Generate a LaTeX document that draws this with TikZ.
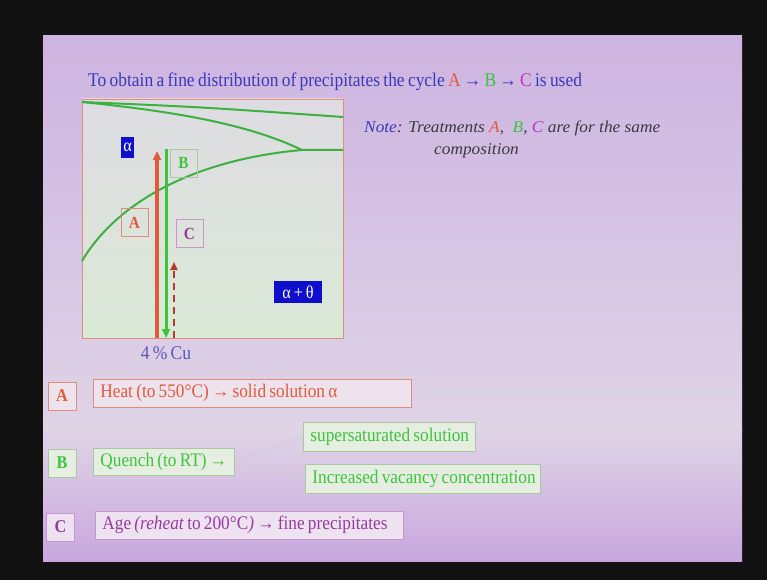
\documentclass[tikz,border=0pt]{standalone}
\usepackage{fontspec}
\setmainfont[FakeStretch=0.9,WordSpace=0.75]{Liberation Serif}
\newfontfamily\notefont[FakeStretch=1.05]{Liberation Serif}
\usetikzlibrary{arrows.meta}
\definecolor{slideTop}{RGB}{205,180,225}
\definecolor{slideMid}{RGB}{223,212,230}
\definecolor{slideBot}{RGB}{200,167,222}
\definecolor{titleBlue}{RGB}{58,58,184}
\definecolor{redA}{RGB}{224,90,60}
\definecolor{greenB}{RGB}{60,196,60}
\definecolor{magC}{RGB}{190,50,200}
\definecolor{purpC}{RGB}{150,58,160}
\definecolor{curveGreen}{RGB}{60,176,64}
\definecolor{boxRed}{RGB}{226,140,124}
\definecolor{boxGreen}{RGB}{170,200,160}
\definecolor{boxPurp}{RGB}{200,150,205}
\definecolor{fillA}{RGB}{238,226,236}
\definecolor{fillB}{RGB}{230,238,226}
\definecolor{fillC}{RGB}{238,226,240}
\definecolor{royal}{RGB}{14,14,204}
\definecolor{noteGray}{RGB}{60,56,66}
\definecolor{cuBlue}{RGB}{90,90,184}
\definecolor{dashBrown}{RGB}{176,60,46}
\newcommand{\fsz}[1]{\fontsize{#1}{#1}\selectfont}
\begin{document}
\begin{tikzpicture}[x=1pt,y=-1pt,
  curve/.style={curveGreen,line width=2pt},
  lblbox/.style={draw,line width=0.6pt,minimum width=27pt,minimum height=28pt,inner sep=0pt,font=\fsz{17}\bfseries},
  smallbox/.style={draw,line width=0.8pt,minimum width=28pt,minimum height=28pt,inner sep=0pt,font=\fsz{18}\bfseries},
  bigbox/.style={draw,line width=0.8pt,anchor=west,inner xsep=7pt,inner ysep=0pt,align=left,font=\fsz{19.2},
    execute at begin node={\spaceskip=0pt\xspaceskip=0pt\relax}},
  bluetag/.style={fill=royal,text=white,inner sep=0pt,font=\fsz{18}},
  upArrow/.style={redA,line width=3.4pt,-{Triangle[length=9pt,width=8pt]}},
  downArrow/.style={greenB,line width=3pt,-{Triangle[length=9pt,width=8pt]}},
  dashArrow/.style={dashBrown,line width=2.8pt,dash pattern=on 7pt off 5pt,-{Triangle[length=8pt,width=7pt]}},
  link/.style={gray!40,line width=0.5pt}
]
\useasboundingbox (0,0) rectangle (767,580);
\fill[black!93] (0,0) rectangle (767,580);
\shade[top color=slideTop,bottom color=slideMid] (43,36) rectangle (742,431);
\shade[top color=slideMid,bottom color=slideBot] (43,430) rectangle (742,561);

% title
\node[anchor=base west,inner sep=0pt,font=\fsz{19.4},text=titleBlue] (title) at (88,87)
  {To obtain a fine distribution of precipitates the cycle \textcolor{redA}{A}\,→\,\textcolor{greenB}{B}\,→\,\textcolor{magC}{C} is used};

% diagram
\shade[top color={rgb,255:red,222;green,220;blue,226},bottom color={rgb,255:red,218;green,233;blue,214}] (82,99) rectangle (343,338);
\node[draw=boxRed,line width=0.8pt,anchor=north west,minimum width=261pt,minimum height=239pt,inner sep=0pt] (diag) at (82,99) {};
\draw[curve] (82,102) .. controls (200,107) .. (343,117);
\draw[curve] (82,102) .. controls (180,112) and (250,125) .. (302,150) -- (343,150);
\draw[curve] (82,261) .. controls (115,205) and (190,160) .. (302,150);

\coordinate (aBot) at (157,338); \coordinate (aTop) at (157,151);
\coordinate (bTop) at (166,149); \coordinate (bBot) at (166,338);
\coordinate (cBot) at (174,338); \coordinate (cTop) at (174,262);
\draw[upArrow] (aBot) -- (aTop);
\draw[downArrow] (bTop) -- (bBot);
\draw[dashArrow] (cBot) -- (cTop);

\node[bluetag,minimum width=13pt,minimum height=21pt] (alpha) at (127.5,147.5) {α};
\node[bluetag,minimum width=48pt,minimum height=22pt] (alphatheta) at (298,292) {α\,+\,θ};
\node[lblbox,draw=boxRed,text=redA] (dA) at (134.5,222.5) {A};
\node[lblbox,draw=boxGreen,text=greenB] (dB) at (183.5,163) {B};
\node[lblbox,draw=boxPurp,text=purpC] (dC) at (189.5,233.5) {C};
\node[anchor=base,inner sep=0pt,font=\fsz{19.5},text=cuBlue] (cu) at (166,359) {4 \% Cu};

% note
\node[anchor=base west,inner sep=0pt,font=\notefont\fsz{16.5}\itshape,text=noteGray] (note1) at (364,133)
  {\textcolor{titleBlue}{Note}: Treatments \textcolor{redA}{A},\ \ \textcolor{greenB}{B}, \textcolor{magC}{C} are for the same};
\node[anchor=base west,inner sep=0pt,font=\notefont\fsz{16.5}\itshape,text=noteGray] (note2) at (434,154) {composition};

% A row
\node[smallbox,draw=boxRed,fill=fillA,text=redA] (rA) at (62,396) {A};
\node[bigbox,draw=boxRed,fill=fillA,text=redA,text width=304pt,minimum height=28pt] (heat) at (93,393)
  {\mbox{Heat (to 550°C) → solid solution α}};

% B row
\node[smallbox,draw=boxGreen,fill=fillB,text=greenB] (rB) at (62,463) {B};
\node[bigbox,draw=boxGreen,fill=fillB,text=greenB,text width=127pt,minimum height=27pt] (quench) at (93,461.5)
  {\mbox{Quench (to RT) →}};
\node[bigbox,draw=boxGreen,fill=fillB,text=greenB,text width=158pt,minimum height=29pt] (sup) at (303,436.5)
  {\mbox{supersaturated solution}};
\node[bigbox,draw=boxGreen,fill=fillB,text=greenB,text width=221pt,minimum height=29pt] (inc) at (305,478.5)
  {\mbox{Increased vacancy concentration}};
\draw[link] (quench.east) -- (sup.west);
\draw[link] (quench.east) -- (inc.west);

% C row
\node[smallbox,draw=boxPurp,fill=fillC,text=purpC] (rC) at (60.5,527) {C};
\node[bigbox,draw=boxPurp,fill=fillC,text=purpC,text width=294pt,minimum height=28pt] (age) at (95,525)
  {\mbox{Age \textit{(reheat} to 200°C\textit{)} → fine precipitates}};
\end{tikzpicture}
\end{document}
